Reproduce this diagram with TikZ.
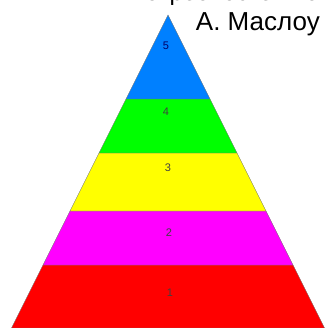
\documentclass[tikz,border=0pt]{standalone}
\usepackage{fontspec}
\setmainfont{Liberation Sans}
\definecolor{lvlblue}{RGB}{0,128,255}
\definecolor{lvlgreen}{RGB}{0,255,0}
\definecolor{lvlyellow}{RGB}{255,255,0}
\definecolor{lvlpink}{RGB}{255,0,255}
\definecolor{lvlred}{RGB}{255,0,0}
\tikzset{
    band/.style={draw=black!55, line width=0.4pt},
    lvl/.style={font=\fontsize{11}{11}\selectfont, text=black!75, inner sep=0pt}
}
\begin{document}
\begin{tikzpicture}[x=1pt, y=-1pt]
    \useasboundingbox (0, 0) rectangle (325, 328);

    % заголовок (верхняя строка обрезана краем)
    \node[anchor=base east, font=\fontsize{24}{24}\selectfont, inner sep=0pt] (title1) at (319, 1) {потребностей по};
    \node[anchor=base east, font=\fontsize{26}{26}\selectfont, inner sep=0pt] (title2) at (320, 31) {А. Маслоу};

    % уровни пирамиды
    \filldraw[band, fill=lvlred]    (43, 265) -- (293, 265) -- (324.5, 328) -- (11.5, 328) -- cycle;
    \filldraw[band, fill=lvlpink]   (70, 211) -- (266, 211) -- (293, 265) -- (43, 265) -- cycle;
    \filldraw[band, fill=lvlyellow] (99, 153) -- (237, 153) -- (266, 211) -- (70, 211) -- cycle;
    \filldraw[band, fill=lvlgreen]  (126, 99) -- (210, 99) -- (237, 153) -- (99, 153) -- cycle;
    \filldraw[band, fill=lvlblue]   (168, 15) -- (210, 99) -- (126, 99) -- cycle;

    % номера
    \node[lvl, text=blue!40!black] (n5) at (166, 46) {5};
    \node[lvl] (n4) at (166, 112) {4};
    \node[lvl] (n3) at (168, 168) {3};
    \node[lvl] (n2) at (169, 233) {2};
    \node[lvl] (n1) at (170, 293) {1};
\end{tikzpicture}
\end{document}
